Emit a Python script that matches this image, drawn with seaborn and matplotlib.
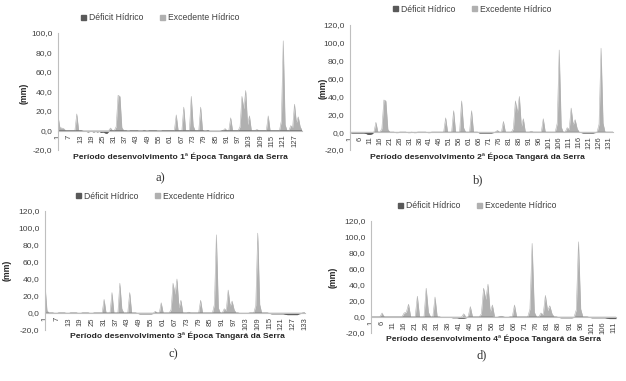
import numpy as np
import pandas as pd
import seaborn as sns
import matplotlib.pyplot as plt
from matplotlib.patches import Patch

sns.set_style("white")
plt.rcParams['font.family'] = ['Liberation Sans', 'DejaVu Sans']

# dias de cada época
n_a, n_b, n_c, n_d = 131, 133, 133, 112

# Excedente hídrico (mm), dia: valor (dias ausentes = 0)
exc_a = {1: 15, 2: 3, 3: 2.5, 4: 2, 11: 17, 29: 2.5, 32: 4, 33: 36, 34: 35, 35: 3,
         64: 16, 68: 24, 72: 35, 73: 5, 77: 24, 90: 2, 93: 13, 98: 4, 99: 35, 100: 22,
         101: 41, 102: 6, 103: 15, 107: 1, 113: 15, 120: 10, 121: 92, 122: 6, 125: 5,
         126: 3, 127: 27, 128: 8, 129: 14, 130: 4}
exc_b = {14: 11, 17: 4, 18: 36, 19: 35, 20: 3, 49: 16, 53: 24, 57: 35, 58: 5, 62: 24,
         75: 2, 78: 12, 83: 4, 84: 35, 85: 22, 86: 40, 87: 6, 88: 15, 92: 1, 98: 15,
         105: 10, 106: 92, 107: 6, 110: 5, 111: 3, 112: 27, 113: 8, 114: 14, 115: 4,
         126: 9, 127: 94, 128: 10}
exc_c = {1: 33, 2: 3, 31: 16, 35: 24, 39: 35, 40: 5, 44: 24, 57: 2, 60: 12, 65: 4,
         66: 35, 67: 22, 68: 40, 69: 6, 70: 15, 74: 1, 80: 15, 87: 10, 88: 92, 89: 6,
         92: 5, 93: 3, 94: 27, 95: 8, 96: 14, 97: 4, 108: 9, 109: 94, 110: 10}
exc_d = {6: 5, 16: 5, 17: 6, 18: 16, 22: 26, 26: 36, 27: 6, 30: 25, 43: 4, 46: 13,
         51: 4, 52: 36, 53: 22, 54: 41, 55: 6, 56: 15, 60: 1, 66: 15, 73: 10, 74: 92,
         75: 6, 78: 5, 79: 3, 80: 27, 81: 8, 82: 14, 83: 4, 94: 9, 95: 94, 96: 10}

# Déficit hídrico (mm)
def_a = {14: -0.5, 15: -1, 16: -1, 17: -1.5, 18: -1, 19: -1, 20: -1.5, 21: -1, 22: -1.5,
         23: -1, 24: -2, 25: -1.5, 26: -2.5, 27: -3, 28: -1, 38: -0.5, 39: -0.5, 44: -0.5,
         45: -0.5, 46: -0.5, 48: -0.5, 49: -0.5, 54: -0.5, 55: -0.5, 56: -0.5, 79: -0.5,
         80: -0.5, 82: -1, 83: -1, 84: -1, 85: -1, 86: -1, 87: -1, 88: -0.5}
def_b = {1: -0.5, 2: -1, 3: -1, 4: -1, 5: -1, 6: -1, 7: -1, 8: -1, 9: -1.5, 10: -2.5,
         11: -2.5, 12: -2, 24: -0.5, 25: -0.5, 30: -0.5, 31: -0.5, 33: -0.5, 34: -0.5,
         40: -0.5, 41: -0.5, 66: -1, 67: -1, 68: -1, 69: -1, 70: -1, 71: -1, 72: -1,
         73: -0.5, 117: -0.5, 118: -1, 119: -1, 120: -1, 121: -1, 122: -1, 123: -1, 124: -0.5}
def_c = {6: -0.5, 7: -0.5, 12: -0.5, 13: -0.5, 18: -0.5, 19: -0.5, 24: -0.5, 25: -0.5,
         48: -0.5, 49: -1, 50: -1, 51: -1, 52: -1, 53: -1, 54: -1, 55: -1, 56: -0.5,
         100: -0.5, 101: -0.5, 102: -0.5, 103: -0.5, 104: -0.5, 115: -0.5, 116: -1,
         117: -1, 118: -1, 119: -1, 120: -1, 121: -1, 122: -1, 123: -1.5, 124: -2,
         125: -2, 126: -2, 127: -2, 128: -2, 129: -2, 130: -1, 131: -0.5}
def_d = {33: -0.5, 34: -0.5, 35: -0.5, 36: -0.5, 37: -0.5, 38: -1, 39: -1, 40: -1,
         41: -1.5, 42: -1.5, 43: -1.5, 44: -1, 57: -0.5, 58: -0.5, 62: -0.5, 63: -0.5,
         86: -0.5, 87: -1, 88: -1, 89: -1, 90: -1, 91: -1, 92: -1, 93: -0.5, 100: -0.5,
         101: -1, 102: -1, 103: -1, 104: -1, 105: -1, 106: -1, 107: -1, 108: -1.5,
         109: -2, 110: -2, 111: -2, 112: -2}

cor_def = '#595959'
cor_exc = '#b0b0b0'
cor_eixo = '#bfbfbf'
cor_txt = '#404040'


def serie(n, valores):
    arr = np.zeros(n)
    for dia, v in valores.items():
        arr[dia - 1] = v
    return arr


fig = plt.figure(figsize=(6.26, 3.81), dpi=100)
W, H = 626, 381

# (n, exc, def, passo, ymax, [x0, x1, ytop, ybot], legenda, xlabel, ylabel, letra, época)
paineis = [
    (n_a, exc_a, def_a, 6, 100, [58, 302, 33, 150], (160, 18), (180, 157), (24, 93), (160, 178), '1ª', 'a)'),
    (n_b, exc_b, def_b, 5, 120, [350, 613, 25, 150], (472, 9), (477, 157), (323, 88), (478, 180), '2ª', 'b)'),
    (n_c, exc_c, def_c, 6, 120, [45, 305, 211, 330], (155, 196), (177, 336), (7, 270), (173, 354), '3ª', 'c)'),
    (n_d, exc_d, def_d, 5, 120, [371, 616, 221, 333], (477, 206), (493, 339), (333, 277), (482, 355), '4ª', 'd)'),
]

for n, exc, dfc, passo, ymax, box, leg, xl, yl, let, epoca, letra in paineis:
    x0, x1, yt, yb = box
    ax = fig.add_axes([x0 / W, 1 - yb / H, (x1 - x0) / W, (yb - yt) / H])
    df = pd.DataFrame({'dia': np.arange(1, n + 1), 'exc': serie(n, exc), 'def': serie(n, dfc)})

    ax.fill_between(df['dia'], 0, df['exc'], color=cor_exc, lw=0)
    ax.fill_between(df['dia'], 0, df['def'], color=cor_def, lw=0)
    sns.lineplot(data=df, x='dia', y='exc', ax=ax, color=cor_exc, lw=0.4)
    sns.lineplot(data=df, x='dia', y='def', ax=ax, color=cor_def, lw=0.4)

    # eixo horizontal cruzando em zero (antes de mexer nos ticks, pois reinicia os ticks)
    for s in ['top', 'right']:
        ax.spines[s].set_visible(False)
    ax.spines['bottom'].set_position(('data', 0))
    ax.spines['bottom'].set_color(cor_eixo)
    ax.spines['left'].set_color(cor_eixo)
    ax.spines['bottom'].set_linewidth(0.8)
    ax.spines['left'].set_linewidth(0.8)

    ax.set_xlim(1, n)
    ax.set_ylim(-20, ymax)
    ax.set_xlabel('')
    ax.set_ylabel('')
    ticks = list(range(1, n + 1, passo))
    ax.set_xticks(ticks)
    ax.set_xticklabels([str(t) for t in ticks], rotation=90)
    yticks = np.arange(-20, ymax + 1, 20)
    ax.set_yticks(yticks)
    ax.set_yticklabels([f'{v:.1f}'.replace('.', ',') for v in yticks])

    ax.tick_params(axis='y', length=2, width=0.6, color=cor_eixo,
                   labelsize=6.1, labelcolor=cor_txt, pad=2)
    ax.tick_params(axis='x', length=2, width=0.6, color=cor_eixo,
                   labelsize=5.5, labelcolor=cor_txt, pad=1)

    handles = [Patch(color=cor_def, label='Déficit Hídrico'),
               Patch(color=cor_exc, label='Excedente Hídrico')]
    fig.legend(handles=handles, loc='center', bbox_to_anchor=(leg[0] / W, 1 - leg[1] / H),
               ncol=2, frameon=False, fontsize=6.2, handlelength=0.6, handleheight=0.6,
               handletextpad=0.3, columnspacing=2.0, labelcolor=cor_txt)

    fig.text(xl[0] / W, 1 - xl[1] / H, f'Período desenvolvimento {epoca} Época Tangará da Serra',
             ha='center', va='center', fontsize=6.1, fontweight='bold', color='#262626')
    fig.text(yl[0] / W, 1 - yl[1] / H, '(mm)', rotation=90, ha='center', va='center',
             fontsize=6.3, fontweight='bold', color='#262626')
    fig.text(let[0] / W, 1 - let[1] / H, letra, ha='center', va='center', fontsize=9,
             family=['Liberation Serif', 'DejaVu Serif'], color='#333333')

fig.savefig('out.png', dpi=100)
